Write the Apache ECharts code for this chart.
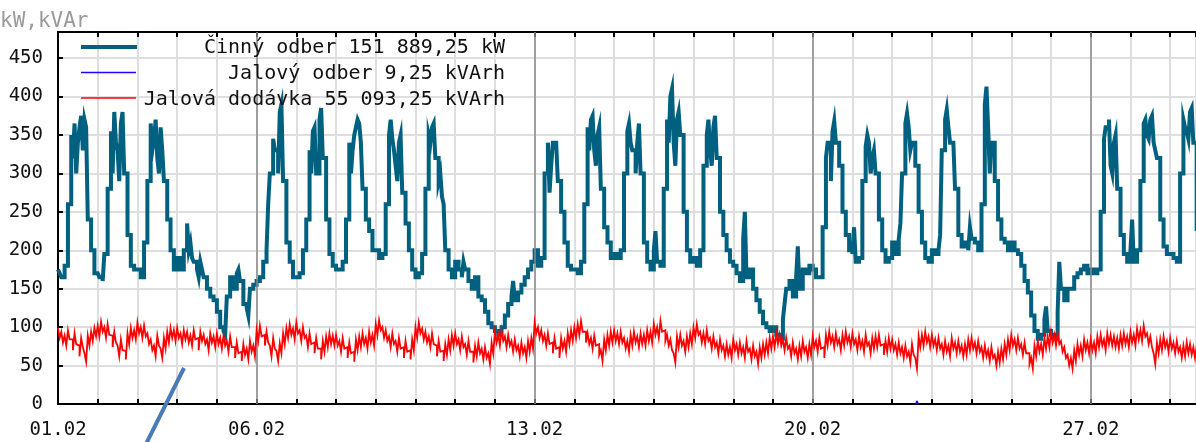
<!DOCTYPE html>
<html>
<head>
<meta charset="utf-8">
<script src="https://cdn.jsdelivr.net/npm/echarts@6/dist/echarts.min.js"></script>
<style>
html,body{margin:0;padding:0;background:#fff;}
#c{width:1196px;height:442px;}
</style>
</head>
<body>
<div id="c"></div>
<script>
// hourly values, day 0 = 01.02 00:00
const stepsPerDay = 24;
const activeLoad = [
175,170,165,165,180,180,260,260,350,320,365,300,340,360,375,330,370,360,240,240,200,200,170,170,
170,165,165,160,195,195,280,280,355,300,380,340,330,290,365,380,300,300,220,220,180,180,175,175,
175,175,165,165,210,210,290,290,365,330,345,370,320,300,360,330,290,290,240,240,200,200,175,175,
190,190,175,175,200,200,235,200,210,190,185,185,175,165,185,175,165,165,150,150,140,140,135,135,
120,120,100,100,95,90,140,140,165,165,150,150,170,175,160,160,130,130,125,115,150,150,155,155,
160,160,165,165,185,185,200,260,300,300,345,330,330,300,380,390,290,290,210,210,185,185,165,165,
165,165,170,170,200,200,240,240,330,300,355,360,300,300,370,385,320,320,240,240,195,195,180,180,
175,175,175,175,185,185,240,240,340,300,330,350,360,370,365,340,280,280,240,240,225,225,200,200,
200,200,190,190,195,195,260,260,350,370,345,330,310,290,340,350,275,275,235,235,200,200,175,175,
165,165,170,170,195,195,280,280,350,340,360,365,320,320,290,300,270,260,200,200,175,175,165,165,
185,185,175,175,165,185,175,175,160,160,150,150,165,165,140,140,135,135,120,120,105,105,100,100,
95,95,90,90,100,100,115,115,130,130,140,160,135,135,145,145,155,155,165,165,175,175,185,185,
200,200,180,180,190,190,300,300,340,275,310,340,340,340,290,290,250,250,210,210,180,180,175,175,
175,175,170,170,185,185,260,260,360,330,370,375,330,310,350,360,280,280,230,230,210,210,190,190,
195,195,190,190,200,200,300,300,355,365,340,330,330,300,340,365,300,300,210,210,185,185,175,175,
200,225,185,185,180,180,280,280,370,340,400,410,340,310,370,380,350,350,250,250,200,200,185,185,
190,190,180,180,200,200,310,310,350,370,330,310,360,375,320,320,250,250,220,220,200,200,185,185,
180,180,170,170,160,160,215,250,165,165,175,175,150,150,135,135,120,120,105,105,100,100,95,95,
100,100,90,90,85,85,110,130,150,150,160,160,140,140,165,205,150,150,175,175,170,170,180,180,
175,175,165,165,165,165,230,230,320,340,340,290,355,368,340,340,310,310,250,250,220,220,200,200,
195,230,185,185,190,190,290,290,335,350,340,300,320,330,300,300,240,240,200,200,185,185,190,190,
210,210,195,195,215,235,300,300,365,378,360,330,340,340,310,310,250,250,210,210,190,190,185,185,
200,200,195,195,200,220,330,330,370,383,360,340,340,340,280,280,220,220,205,205,210,210,200,230,
215,215,210,210,200,200,260,260,390,413,360,300,340,340,290,290,240,240,215,215,210,210,200,200,
210,210,200,200,195,195,180,180,160,160,145,145,115,115,95,95,85,85,90,90,110,127,95,95,
90,90,85,85,120,185,150,150,135,135,150,150,150,150,165,165,170,170,175,175,180,180,170,170,
175,175,170,170,175,175,250,250,345,360,360,370,310,300,340,350,280,280,220,220,195,195,185,185,
200,240,185,185,200,200,290,290,365,370,350,345,370,375,340,330,320,320,240,240,205,205,195,195,
195,195,190,190,185,185,300,300,370,360,355,345,380,385,340,340,225
];
const reactiveExport = [
99,86,94,80,89,76,96,84,84,70,92,78,76,62,86,74,66,55,89,76,94,82,99,88,
102,88,107,94,100,86,104,90,89,74,94,80,76,62,84,70,69,58,92,78,99,86,96,84,
106,92,100,86,102,88,92,78,84,70,76,62,89,76,72,60,86,72,94,80,99,86,96,82,
99,86,92,78,96,84,94,80,89,76,96,84,86,70,94,82,90,78,84,70,92,80,88,74,
92,78,86,72,89,76,82,68,88,74,74,60,80,66,68,56,78,64,72,58,82,68,76,62,
96,82,102,88,90,76,94,80,76,62,86,72,69,56,79,66,92,78,99,86,104,90,98,84,
106,92,96,82,100,86,89,74,92,78,80,66,86,72,72,58,82,68,88,74,92,78,89,76,
90,76,82,68,86,72,74,60,80,66,68,55,84,70,88,74,92,78,86,72,94,80,90,76,
104,90,109,96,100,86,96,82,88,74,92,78,82,68,86,72,74,60,82,68,70,58,84,70,
100,86,106,92,98,84,94,80,88,74,92,78,76,62,82,68,69,56,78,64,84,70,90,76,
92,78,84,70,88,74,78,64,82,68,68,54,76,62,80,66,72,58,74,60,66,52,80,66,
94,80,90,76,96,82,88,74,90,76,82,68,84,70,76,62,80,66,74,60,82,68,86,72,
106,92,100,86,96,82,90,76,92,78,80,66,86,72,74,60,86,72,82,68,92,78,96,82,
100,86,104,90,108,94,94,80,92,78,86,72,89,76,78,64,70,56,84,70,90,76,94,80,
96,82,92,78,94,80,86,72,82,68,90,76,94,80,88,74,92,78,90,76,96,82,94,80,
104,90,100,86,108,94,96,82,90,76,84,70,66,54,88,74,90,76,82,68,88,74,92,78,
100,86,104,90,94,80,92,78,96,82,86,72,88,74,80,66,84,70,76,62,78,64,74,60,
84,70,78,64,80,66,74,60,82,68,72,58,76,62,68,52,74,60,78,64,80,66,86,72,
88,74,92,78,90,76,84,70,86,72,76,62,80,66,72,58,76,62,82,68,74,60,78,64,
88,74,82,68,86,72,74,60,90,76,94,80,88,74,92,78,84,70,90,76,94,80,88,74,
92,78,84,70,88,74,82,68,90,76,80,66,86,72,88,74,90,76,78,64,82,68,86,72,
84,70,78,64,80,66,74,60,76,62,68,54,78,64,60,46,88,74,90,76,94,80,88,74,
90,76,84,70,86,72,78,64,82,68,76,62,86,72,80,66,82,68,76,62,78,64,84,70,
86,72,80,66,82,68,74,60,76,62,70,56,74,60,64,50,68,54,72,58,78,64,84,70,
90,76,84,70,86,72,78,64,80,66,66,52,60,46,76,62,82,68,78,64,86,72,88,74,
94,80,90,76,92,78,82,68,74,60,64,50,60,46,70,56,78,64,76,62,84,70,80,66,
84,70,80,66,88,74,90,76,84,70,92,78,90,76,88,74,86,72,90,76,92,78,88,74,
94,80,90,76,98,84,96,82,102,88,92,78,88,74,66,52,80,66,84,70,88,74,82,68,
86,72,80,66,82,68,74,60,76,62,80,66,78,64,74,60,76
];
const reactiveImportT = [21.6, 21.62, 21.66];
const reactiveImportV = [0, 4, 0];
const tickDays = [0, 5, 12, 19, 26];
const tickLabels = ['01.02', '06.02', '13.02', '20.02', '27.02'];
const seriesNames = ['Činný odber 151 889,25 kW', 'Jalový odber 9,25 kVArh', 'Jalová dodávka 55 093,25 kVArh'];
const unitLabel = 'kW,kVAr';

const FONT = '"DejaVu Sans Mono", "Liberation Mono", monospace';
const C_ACTIVE = '#00607f', C_IMPORT = '#2200ff', C_EXPORT = '#ff0000';

const toPairs = arr => arr.map((v, i) => [i / stepsPerDay, v]);

const chart = echarts.init(document.getElementById('c'), null, {renderer: 'canvas'});
const xMax = 28.65;
const baseX = {type: 'value', min: 0, max: xMax, interval: 1};
chart.setOption({
  animation: false,
  backgroundColor: '#fff',
  grid: {left: 58, right: 0, top: 32, bottom: 38, show: true, borderColor: '#000', borderWidth: 2, backgroundColor: 'transparent'},
  xAxis: [
    Object.assign({}, baseX, {
      position: 'bottom',
      axisLine: {show: true, onZero: false, lineStyle: {color: '#000', width: 2}},
      axisTick: {show: true, inside: true, length: 5, lineStyle: {color: '#000', width: 2}},
      axisLabel: {
        show: true, margin: 17, color: '#111', fontFamily: FONT, fontSize: 19,
        showMaxLabel: false, hideOverlap: false,
        formatter: v => { const r = Math.round(v); const i = tickDays.indexOf(r); return (i >= 0 && Math.abs(v - r) < 1e-6) ? tickLabels[i] : ''; }
      },
      splitLine: {show: true, lineStyle: {color: '#dedede', width: 2}}
    }),
    Object.assign({}, baseX, {
      position: 'top',
      axisLine: {show: true, onZero: false, lineStyle: {color: '#000', width: 2}},
      axisTick: {show: true, inside: true, length: 5, lineStyle: {color: '#000', width: 2}},
      axisLabel: {show: false},
      splitLine: {show: false}
    })
  ],
  yAxis: {
    type: 'value', min: 0, max: 484, interval: 50,
    axisLine: {show: true, lineStyle: {color: '#000', width: 2}},
    axisTick: {show: true, inside: true, length: 5, lineStyle: {color: '#000', width: 2}},
    axisLabel: {
      margin: 15, color: '#111', fontFamily: FONT, fontSize: 19, showMaxLabel: false,
      formatter: v => (v % 50 === 0 ? String(v) : '')
    },
    splitLine: {show: true, lineStyle: {color: '#dedede', width: 2}}
  },
  series: [
    {
      name: 'weeks', type: 'line', data: [], z: 1, silent: true,
      markLine: {
        silent: true, symbol: ['none', 'none'], label: {show: false},
        lineStyle: {color: '#8a8a8a', width: 1.5, type: 'solid'},
        data: tickDays.filter(d => d > 0).map(d => ({xAxis: d}))
      }
    },
    {
      name: seriesNames[0], type: 'line', step: 'end', showSymbol: false, z: 3,
      lineStyle: {color: C_ACTIVE, width: 4, join: 'miter'}, itemStyle: {color: C_ACTIVE},
      data: toPairs(activeLoad)
    },
    {
      name: seriesNames[1], type: 'line', step: 'end', showSymbol: false, z: 4,
      lineStyle: {color: C_IMPORT, width: 1.5}, itemStyle: {color: C_IMPORT},
      data: reactiveImportT.map((t, i) => [t, reactiveImportV[i]])
    },
    {
      name: seriesNames[2], type: 'line', step: 'end', showSymbol: false, z: 5,
      lineStyle: {color: C_EXPORT, width: 1.8, join: 'miter'}, itemStyle: {color: C_EXPORT},
      data: toPairs(reactiveExport)
    }
  ],
  graphic: [
    {type: 'text', left: 0, top: 11, z: 10, style: {text: unitLabel, fill: '#9a9a9a', font: '21px ' + FONT}},
    {type: 'line', z: 10, shape: {x1: 81, y1: 47, x2: 137, y2: 47}, style: {stroke: C_ACTIVE, lineWidth: 4}},
    {type: 'line', z: 10, shape: {x1: 81, y1: 72.5, x2: 136, y2: 72.5}, style: {stroke: C_IMPORT, lineWidth: 1.5}},
    {type: 'line', z: 10, shape: {x1: 81, y1: 98, x2: 136, y2: 98}, style: {stroke: C_EXPORT, lineWidth: 1.5}},
    {type: 'text', z: 10, x: 505, y: 48, style: {text: seriesNames[0], fill: '#111', font: '20px ' + FONT, align: 'right', verticalAlign: 'middle', textAlign: 'right', textVerticalAlign: 'middle'}},
    {type: 'text', z: 10, x: 505, y: 74, style: {text: seriesNames[1], fill: '#111', font: '20px ' + FONT, align: 'right', verticalAlign: 'middle', textAlign: 'right', textVerticalAlign: 'middle'}},
    {type: 'text', z: 10, x: 505, y: 99.5, style: {text: seriesNames[2], fill: '#111', font: '20px ' + FONT, align: 'right', verticalAlign: 'middle', textAlign: 'right', textVerticalAlign: 'middle'}},
    {type: 'line', z: 10, shape: {x1: 146, y1: 444, x2: 184, y2: 368}, style: {stroke: '#4a7ab8', lineWidth: 4}}
  ]
});
</script>
</body>
</html>
